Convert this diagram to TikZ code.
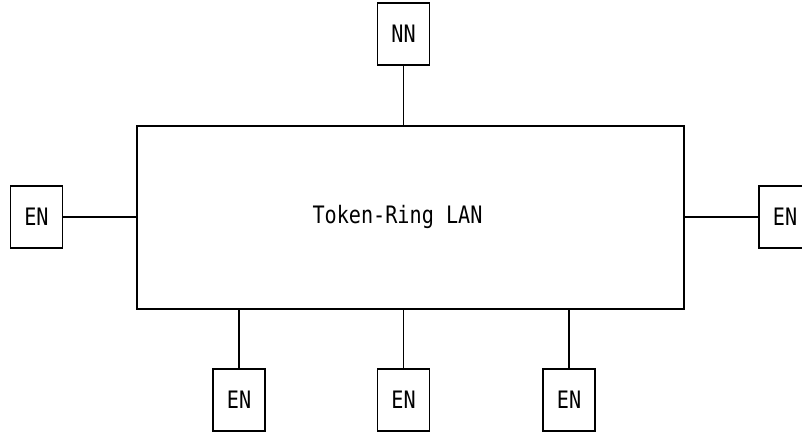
\documentclass[tikz,border=0pt]{standalone}
\usepackage{fontspec}
\setmonofont{DejaVu Sans Mono}
\newcommand{\dtxt}[1]{\scalebox{0.84}[1]{\ttfamily\fontsize{24}{27}\selectfont #1}}
\begin{document}
\begin{tikzpicture}[x=1pt,y=-1pt,
  box/.style={draw,line width=1.7pt,inner sep=0pt,minimum width=52pt,minimum height=62pt},
  lanbox/.style={draw,line width=1.7pt,inner sep=0pt,minimum width=547pt,minimum height=183pt},
  conn/.style={line width=1.7pt}]
\useasboundingbox (0,0) rectangle (802,432);
\node[lanbox] (lan) at (410.5,217.5) {};
\node (lantext) at (397.5,217) {\dtxt{Token-Ring LAN}};
\node[box] (nn) at (403.5,34) {\dtxt{NN}};
\node[box] (enl) at (36.5,217) {\dtxt{EN}};
\node[box] (enr) at (785,217) {\dtxt{EN}};
\node[box] (enb1) at (239,400) {\dtxt{EN}};
\node[box] (enb2) at (403.5,400) {\dtxt{EN}};
\node[box] (enb3) at (569,400) {\dtxt{EN}};
\draw[conn] (nn.south) -- (nn.south |- lan.north);
\draw[conn] (enl.east) -- (enl.east -| lan.west);
\draw[conn] (enr.west) -- (enr.west -| lan.east);
\draw[conn] (enb1.north) -- (enb1.north |- lan.south);
\draw[conn] (enb2.north) -- (enb2.north |- lan.south);
\draw[conn] (enb3.north) -- (enb3.north |- lan.south);
\end{tikzpicture}
\end{document}
